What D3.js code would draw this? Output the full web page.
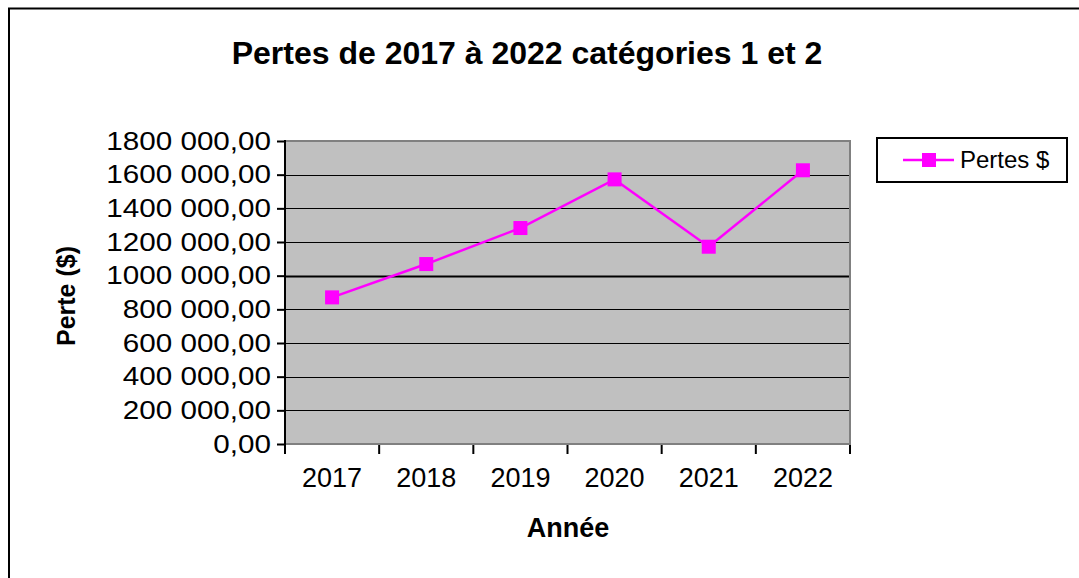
<!DOCTYPE html>
<html>
<head>
<meta charset="utf-8">
<script src="https://cdn.jsdelivr.net/npm/d3@7"></script>
<style>
  body { margin: 0; background: #fff; }
  svg text { font-family: "Liberation Sans", Arial, sans-serif; fill: #000; }
</style>
</head>
<body>
<svg width="1079" height="578"></svg>
<script>

// Données
let annees = ['2017', '2018', '2019', '2020', '2021', '2022']
let pertes = [871000, 1069000, 1283000, 1572000, 1172000, 1626000]
let graduations = [0, 200000, 400000, 600000, 800000, 1000000, 1200000, 1400000, 1600000, 1800000]
let titre = 'Pertes de 2017 à 2022 catégories 1 et 2'
let nom_serie = 'Pertes $'

let svg = d3.select('svg')

// cadre (seulement haut et gauche visibles)
svg.append('path')
  .attr('d', 'M9,578 V8.5 H1079')
  .attr('fill', 'none')
  .attr('stroke', '#000')
  .attr('stroke-width', 2)

let zone = {x0: 285, x1: 850, y0: 141, y1: 444}

let x = d3.scaleBand().domain(annees).range([zone.x0, zone.x1])
let y = d3.scaleLinear().domain([0, 1800000]).range([zone.y1, zone.y0])

let fmt = v => d3.format(',.2f')(v).replace(/,/g, ' ').replace('.', ',').replace(/^(\d) (\d{3}) /, '$1$2 ')

// fond gris
svg.append('rect')
  .attr('x', zone.x0).attr('y', zone.y0)
  .attr('width', zone.x1 - zone.x0).attr('height', zone.y1 - zone.y0)
  .attr('fill', '#c0c0c0')
  .attr('stroke', '#808080')
  .attr('stroke-width', 2)

// grille
svg.append('g').selectAll('line')
  .data(graduations.filter(d => d > 0 && d < 1800000))
  .enter().append('line')
    .attr('x1', zone.x0).attr('x2', zone.x1 - 1)
    .attr('y1', d => Math.round(y(d)) + 0.5).attr('y2', d => Math.round(y(d)) + 0.5)
    .attr('stroke', '#000')
    .attr('stroke-width', d => d == 1000000 ? 2 : 1)

// axe Y (texte un peu étiré comme dans l'original)
let etire = 1.14
let axeY = svg.append('g')
  .attr('transform', `translate(${zone.x0},0)`)
  .call(d3.axisLeft(y).tickValues(graduations).tickFormat(fmt).tickSize(8).tickPadding(8))
axeY.select('.domain').attr('stroke', '#000').attr('stroke-width', 2).attr('d', `M0,${zone.y0 - 1}V${zone.y1 + 1}`)
axeY.selectAll('.tick line').attr('stroke-width', 2)
axeY.selectAll('text')
  .attr('font-size', 26)
  .attr('font-family', '"Liberation Sans", Arial, sans-serif')
  .attr('fill', '#000')
  .attr('x', -14 / etire)
  .attr('transform', `scale(${etire},1)`)

// axe X
let axeX = svg.append('g')
  .attr('transform', `translate(0,${zone.y1 + 1})`)
axeX.selectAll('line')
  .data(annees.map(a => x(a)).concat([zone.x1]))
  .enter().append('line')
    .attr('x1', d => d).attr('x2', d => d)
    .attr('y1', 0).attr('y2', 9)
    .attr('stroke', '#000').attr('stroke-width', 2)
axeX.selectAll('text')
  .data(annees)
  .enter().append('text')
    .attr('x', d => x(d) + x.bandwidth() / 2)
    .attr('y', 42)
    .attr('text-anchor', 'middle')
    .attr('font-size', 27)
    .text(d => d)

// courbe
let ligne = d3.line()
  .x((d, i) => x(annees[i]) + x.bandwidth() / 2)
  .y(d => y(d))

svg.append('path')
  .datum(pertes)
  .attr('d', ligne)
  .attr('fill', 'none')
  .attr('stroke', '#ff00ff')
  .attr('stroke-width', 2.5)

svg.append('g').selectAll('rect')
  .data(pertes)
  .enter().append('rect')
    .attr('x', (d, i) => x(annees[i]) + x.bandwidth() / 2 - 7)
    .attr('y', d => y(d) - 7)
    .attr('width', 14).attr('height', 14)
    .attr('fill', '#ff00ff')

// titres
svg.append('text')
  .attr('x', 527).attr('y', 64)
  .attr('text-anchor', 'middle')
  .attr('font-size', 32).attr('font-weight', 'bold')
  .text(titre)

svg.append('text')
  .attr('x', 568).attr('y', 537)
  .attr('text-anchor', 'middle')
  .attr('font-size', 27).attr('font-weight', 'bold')
  .text('Année')

svg.append('text')
  .attr('transform', 'translate(75,296) rotate(-90)')
  .attr('text-anchor', 'middle')
  .attr('font-size', 25).attr('font-weight', 'bold')
  .text('Perte ($)')

// légende
let leg = svg.append('g').attr('transform', 'translate(877,138)')
leg.append('rect')
  .attr('width', 190).attr('height', 44)
  .attr('fill', '#fff').attr('stroke', '#000').attr('stroke-width', 2)
leg.append('line')
  .attr('x1', 26).attr('x2', 77).attr('y1', 22).attr('y2', 22)
  .attr('stroke', '#ff00ff').attr('stroke-width', 2.5)
leg.append('rect')
  .attr('x', 45).attr('y', 15).attr('width', 14).attr('height', 14)
  .attr('fill', '#ff00ff')
leg.append('text')
  .attr('x', 83).attr('y', 30)
  .attr('font-size', 24)
  .text(nom_serie)

</script>
</body>
</html>
